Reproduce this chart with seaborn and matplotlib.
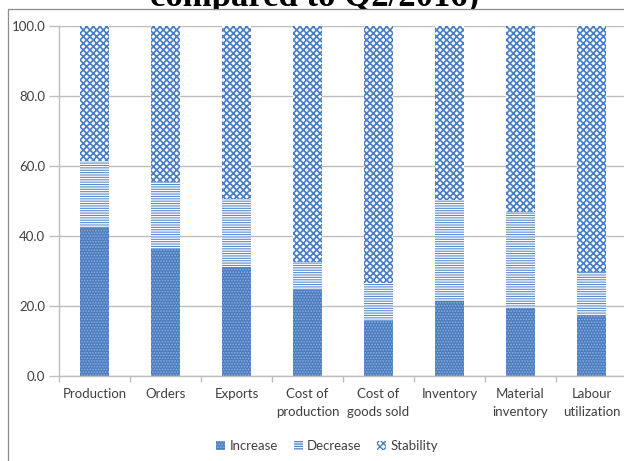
import matplotlib
matplotlib.use("Agg")
import matplotlib.pyplot as plt
from matplotlib.patches import Patch, Rectangle
from matplotlib.ticker import FormatStrFormatter, FixedLocator
import seaborn as sns
import pandas as pd

# Survey shares (%) per business indicator
categories = ["Production", "Orders", "Exports", "Cost of\nproduction",
              "Cost of\ngoods sold", "Inventory", "Material\ninventory",
              "Labour\nutilization"]
increase = [42.2, 36.3, 31.1, 24.6, 15.6, 21.5, 19.5, 17.2]
decrease = [19.3, 19.0, 19.6, 8.1, 10.9, 28.7, 27.4, 12.4]
stability = [38.5, 44.7, 49.3, 67.3, 73.5, 49.8, 53.1, 70.4]
series_names = ["Increase", "Decrease", "Stability"]
title_tail = "compared to Q2/2016)"

df = pd.DataFrame({"category": categories, "Increase": increase,
                   "Decrease": decrease, "Stability": stability})
df["lvl_inc"] = df["Increase"]
df["lvl_dec"] = df["Increase"] + df["Decrease"]
df["lvl_sta"] = df["lvl_dec"] + df["Stability"]

sns.set_theme(style="white")
plt.rcParams["font.family"] = ["Lato", "DejaVu Sans"]

W, H = 624, 461
fig = plt.figure(figsize=(W / 100, H / 100), dpi=100)
fig.patch.set_facecolor("white")

# Heading (continues above the visible area)
fig.text(315 / W, 1 - 6 / H, title_tail, ha="center", va="baseline",
         fontsize=25, fontweight="bold", family=["Liberation Serif"],
         color="black", zorder=-2)
# Chart-area frame
fig.patches.append(Rectangle((8 / W, -0.1), 1.2, 1 - 9 / H + 0.1,
                             transform=fig.transFigure, facecolor="white",
                             edgecolor="#8c8c8c", linewidth=0.9, zorder=-1))

ax = fig.add_axes([59 / W, 1 - 376 / H, 568 / W, 350 / H])

blue = "#4a7cbf"
styles = {
    "Stability": dict(color="white", edgecolor="#4a7fc6", hatch="xxxxx", hlw=1.25),
    "Decrease": dict(color="white", edgecolor="#5a8ccf", hatch="-------", hlw=0.8),
    "Increase": dict(color=blue, edgecolor="#8fb0dc", hatch="......", hlw=0.8),
}
levels = {"Stability": "lvl_sta", "Decrease": "lvl_dec", "Increase": "lvl_inc"}
for name in ["Stability", "Decrease", "Increase"]:
    st = styles[name]
    with plt.rc_context({"hatch.linewidth": st["hlw"]}):
        sns.barplot(data=df, x="category", y=levels[name], ax=ax, width=0.4,
                    color=st["color"], edgecolor=st["edgecolor"],
                    hatch=st["hatch"], linewidth=0, saturation=1, zorder=2)

ax.set_ylim(0, 100)
ax.set_xlim(-0.5, len(categories) - 0.5)
ax.set_yticks([0, 20, 40, 60, 80, 100])
ax.yaxis.set_major_formatter(FormatStrFormatter("%.1f"))
ax.set_xlabel("")
ax.set_ylabel("")
ax.grid(axis="y", color="#bdbdbd", linewidth=1.0, zorder=0)
ax.set_axisbelow(True)
for s in ["top", "right"]:
    ax.spines[s].set_visible(False)
for s in ["left", "bottom"]:
    ax.spines[s].set_color("#bdbdbd")
    ax.spines[s].set_linewidth(1.0)

ax.tick_params(axis="y", length=7, width=1.0, color="#bdbdbd", pad=3,
               labelsize=9.5, labelcolor="#404040", left=True)
ax.tick_params(axis="x", which="major", length=0, pad=9,
               labelsize=9.5, labelcolor="#404040")
ax.xaxis.set_minor_locator(FixedLocator([i - 0.5 for i in range(len(categories) + 1)]))
ax.tick_params(axis="x", which="minor", length=4, width=1.0, color="#bdbdbd",
               bottom=True)
for lbl in ax.get_xticklabels():
    lbl.set_linespacing(1.6)

handles = []
for n in series_names:
    st = styles[n]
    with plt.rc_context({"hatch.linewidth": st["hlw"]}):
        handles.append(Patch(facecolor=st["color"], edgecolor=st["edgecolor"],
                             hatch=st["hatch"], linewidth=0, label=n))
fig.legend(handles=handles, loc="center", bbox_to_anchor=(327 / W, 1 - 446 / H),
           ncol=3, frameon=False, fontsize=9.5, handlelength=0.7,
           handleheight=0.7, handletextpad=0.3, columnspacing=1.2,
           labelcolor="#404040")

fig.savefig("out.png", dpi=100, facecolor="white")
